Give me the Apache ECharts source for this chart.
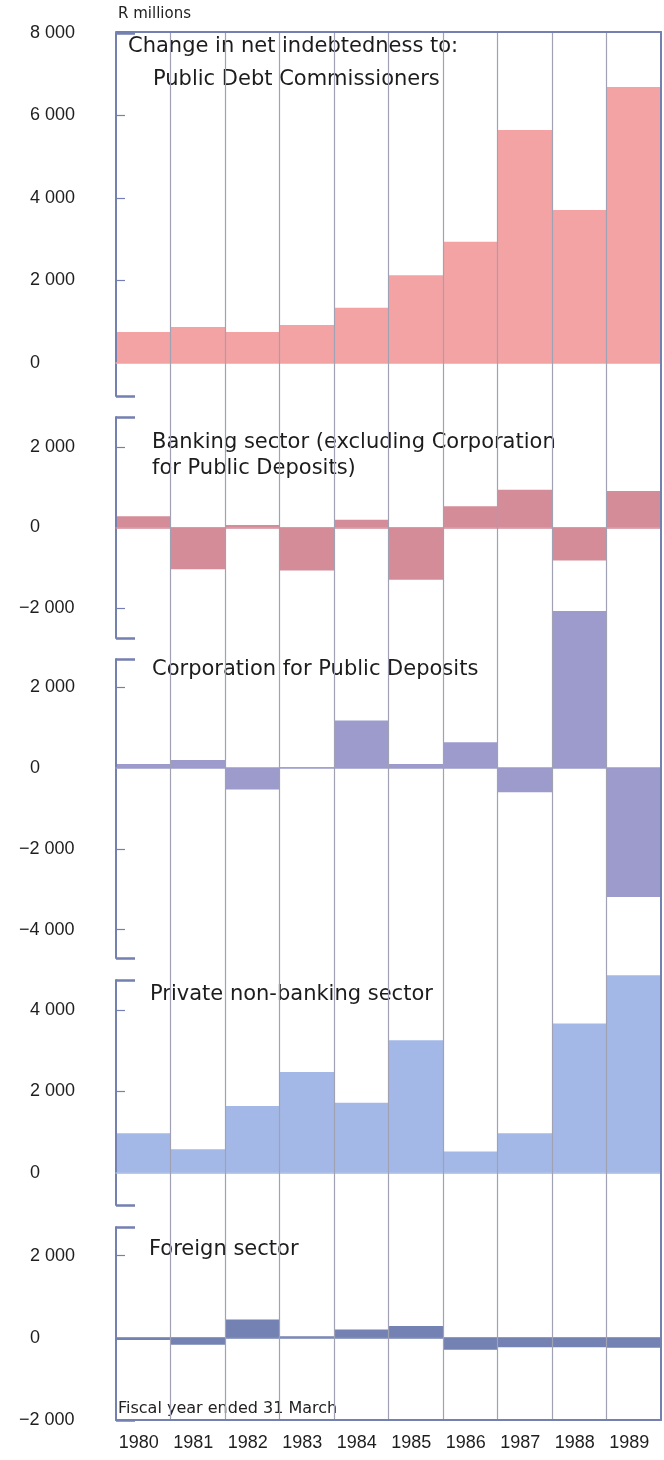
<!DOCTYPE html>
<html>
<head>
<meta charset="utf-8">
<script src="https://cdn.jsdelivr.net/npm/echarts@6/dist/echarts.min.js"></script>
<style>
  html, body { margin: 0; padding: 0; background: #ffffff; }
  #chart { width: 664px; height: 1460px; }
</style>
</head>
<body>
<div id="chart"></div>
<script>
// Fiscal years (ended 31 March)
const years = ['1980', '1981', '1982', '1983', '1984', '1985', '1986', '1987', '1988', '1989'];

// Change in net indebtedness, R millions
const publicDebtCommissioners = [750, 870, 750, 920, 1340, 2130, 2940, 5650, 3710, 6690];
const bankingSector          = [280, -1040, 60, -1070, 190, -1300, 530, 940, -820, 910];
const corporationDeposits    = [100, 200, -530, 20, 1180, 100, 640, -600, 3890, -3190];
const privateNonBanking      = [970, 575, 1640, 2480, 1725, 3265, 520, 970, 3680, 4870];
const foreignSector          = [-50, -165, 450, 40, 205, 290, -290, -230, -230, -240];

// Axis ranges and labelled values of each panel
const ranges  = [[-800, 8000], [-2750, 2750], [-4700, 2700], [-800, 4750], [-2000, 2700]];
const labels  = [
  [0, 2000, 4000, 6000, 8000],
  [-2000, 0, 2000],
  [-4000, -2000, 0, 2000],
  [0, 2000, 4000],
  [-2000, 0, 2000]
];
const panelTitles = [
  ['Change in net indebtedness to:', 'Public Debt Commissioners'],
  ['Banking sector (excluding Corporation', 'for Public Deposits)'],
  ['Corporation for Public Deposits'],
  ['Private non-banking sector'],
  ['Foreign sector']
];

// Styling and placement
const seriesData = [publicDebtCommissioners, bankingSector, corporationDeposits, privateNonBanking, foreignSector];
const colors = ['#f3a3a3', '#d48c99', '#9c9bcb', '#a3b8e6', '#7482b3'];
const panelBox = [
  { top: 33,   height: 363 },
  { top: 417,  height: 221 },
  { top: 659,  height: 299 },
  { top: 980,  height: 225 },
  { top: 1227, height: 193 }
];
const titlePos = [
  [[128, 47], [153, 80]],
  [[152, 443], [152, 469]],
  [[152, 670]],
  [[150, 995]],
  [[149, 1250]]
];
const frameColor = '#7480b0';
const sepColor = '#a0a2b4';
const numFont = 'Liberation Sans, Arial, sans-serif';
const textFont = 'DejaVu Sans, Liberation Sans, sans-serif';

function fmt(v) {
  const s = String(Math.abs(v)).replace(/\B(?=(\d{3})+(?!\d))/g, ' ');
  return (v < 0 ? '\u2212' : '') + s;
}

const grid = [{ left: 116, right: 3, top: 32, height: 1388 }];
const xAxis = [
  // column separators and bottom frame
  {
    type: 'value', gridIndex: 0, min: 0, max: 10, interval: 1, position: 'bottom', z: 5,
    axisLine: { show: true, onZero: false, lineStyle: { color: frameColor, width: 2 } },
    axisTick: { show: false }, axisLabel: { show: false },
    splitLine: { show: true, showMinLine: false, showMaxLine: false, lineStyle: { color: sepColor, width: 1.2 } }
  },
  // year labels
  {
    type: 'category', gridIndex: 0, data: years, position: 'bottom', boundaryGap: true,
    axisLine: { show: false }, axisTick: { show: false }, splitLine: { show: false },
    axisLabel: { show: true, margin: 14, fontSize: 18, color: '#1e1e1e', fontFamily: numFont, padding: [0, 9, 0, 0] }
  },
  // top frame
  {
    type: 'value', gridIndex: 0, min: 0, max: 10, position: 'top', z: 5,
    axisLine: { show: true, onZero: false, lineStyle: { color: frameColor, width: 2 } },
    axisTick: { show: false }, axisLabel: { show: false }, splitLine: { show: false }
  }
];
const yAxis = [
  // right frame
  {
    type: 'value', gridIndex: 0, min: 0, max: 1, position: 'right', z: 5,
    axisLine: { show: true, onZero: false, lineStyle: { color: frameColor, width: 2 } },
    axisTick: { show: false }, axisLabel: { show: false }, splitLine: { show: false }
  }
];
const series = [
  // anchor series for the frame grid
  { type: 'line', xAxisIndex: 0, yAxisIndex: 0, data: [], silent: true }
];

seriesData.forEach((data, i) => {
  const g = i + 1;
  const [mn, mx] = ranges[i];
  const lab = labels[i];
  grid.push({ left: 116, right: 3, top: panelBox[i].top, height: panelBox[i].height });

  const xi = xAxis.length;
  xAxis.push({
    type: 'category', gridIndex: g, data: years, boundaryGap: true, z: 4,
    axisLine: { show: true, onZero: true, lineStyle: { color: colors[i], width: 1.5 } },
    axisTick: { show: false }, axisLabel: { show: false }, splitLine: { show: false }
  });

  const yi = yAxis.length;
  // bracket line, inner ticks, non-negative labels
  yAxis.push({
    type: 'value', gridIndex: g, min: mn, max: mx, position: 'left', z: 4,
    axisLine: { show: true, onZero: false, lineStyle: { color: frameColor, width: 2 } },
    axisTick: {
      show: true, inside: true, length: 9,
      customValues: lab.filter(v => v !== 0 && v !== mx && v !== mn),
      lineStyle: { color: frameColor, width: 1.2 }
    },
    axisLabel: {
      show: true, customValues: lab.filter(v => v >= 0),
      align: 'left', margin: 86, fontSize: 18, color: '#1e1e1e', fontFamily: numFont,
      formatter: fmt
    },
    splitLine: { show: false }
  });
  // bracket caps and negative labels (minus sign hangs to the left)
  yAxis.push({
    type: 'value', gridIndex: g, min: mn, max: mx, position: 'left', z: 4,
    axisLine: { show: false },
    axisTick: {
      show: true, inside: true, length: 19, customValues: [mn, mx],
      lineStyle: { color: frameColor, width: 2.5 }
    },
    axisLabel: {
      show: true, customValues: lab.filter(v => v < 0),
      align: 'left', margin: 97, fontSize: 18, color: '#1e1e1e', fontFamily: numFont,
      formatter: fmt
    },
    splitLine: { show: false }
  });

  series.push({
    type: 'bar', xAxisIndex: xi, yAxisIndex: yi, data: data,
    barCategoryGap: '0%', barGap: '0%', clip: false, z: 2, silent: true,
    itemStyle: { color: colors[i] }
  });
});

const graphics = [
  { type: 'text', x: 118, y: 14, z: 3,
    style: { text: 'R millions', font: '15px ' + textFont, fill: '#222', textVerticalAlign: 'middle' } },
  { type: 'text', x: 118, y: 1409, z: 3,
    style: { text: 'Fiscal year ended 31 March', font: '16px ' + textFont, fill: '#222', textVerticalAlign: 'middle' } }
];
panelTitles.forEach((lines, i) => {
  lines.forEach((t, j) => {
    graphics.push({
      type: 'text', x: titlePos[i][j][0], y: titlePos[i][j][1], z: 3,
      style: { text: t, font: '21px ' + textFont, fill: '#1c1c1c', textVerticalAlign: 'middle' }
    });
  });
});

const chart = echarts.init(document.getElementById('chart'), null, { renderer: 'canvas' });
chart.setOption({
  animation: false,
  backgroundColor: '#ffffff',
  grid: grid,
  xAxis: xAxis,
  yAxis: yAxis,
  series: series,
  graphic: { elements: graphics }
});
</script>
</body>
</html>
